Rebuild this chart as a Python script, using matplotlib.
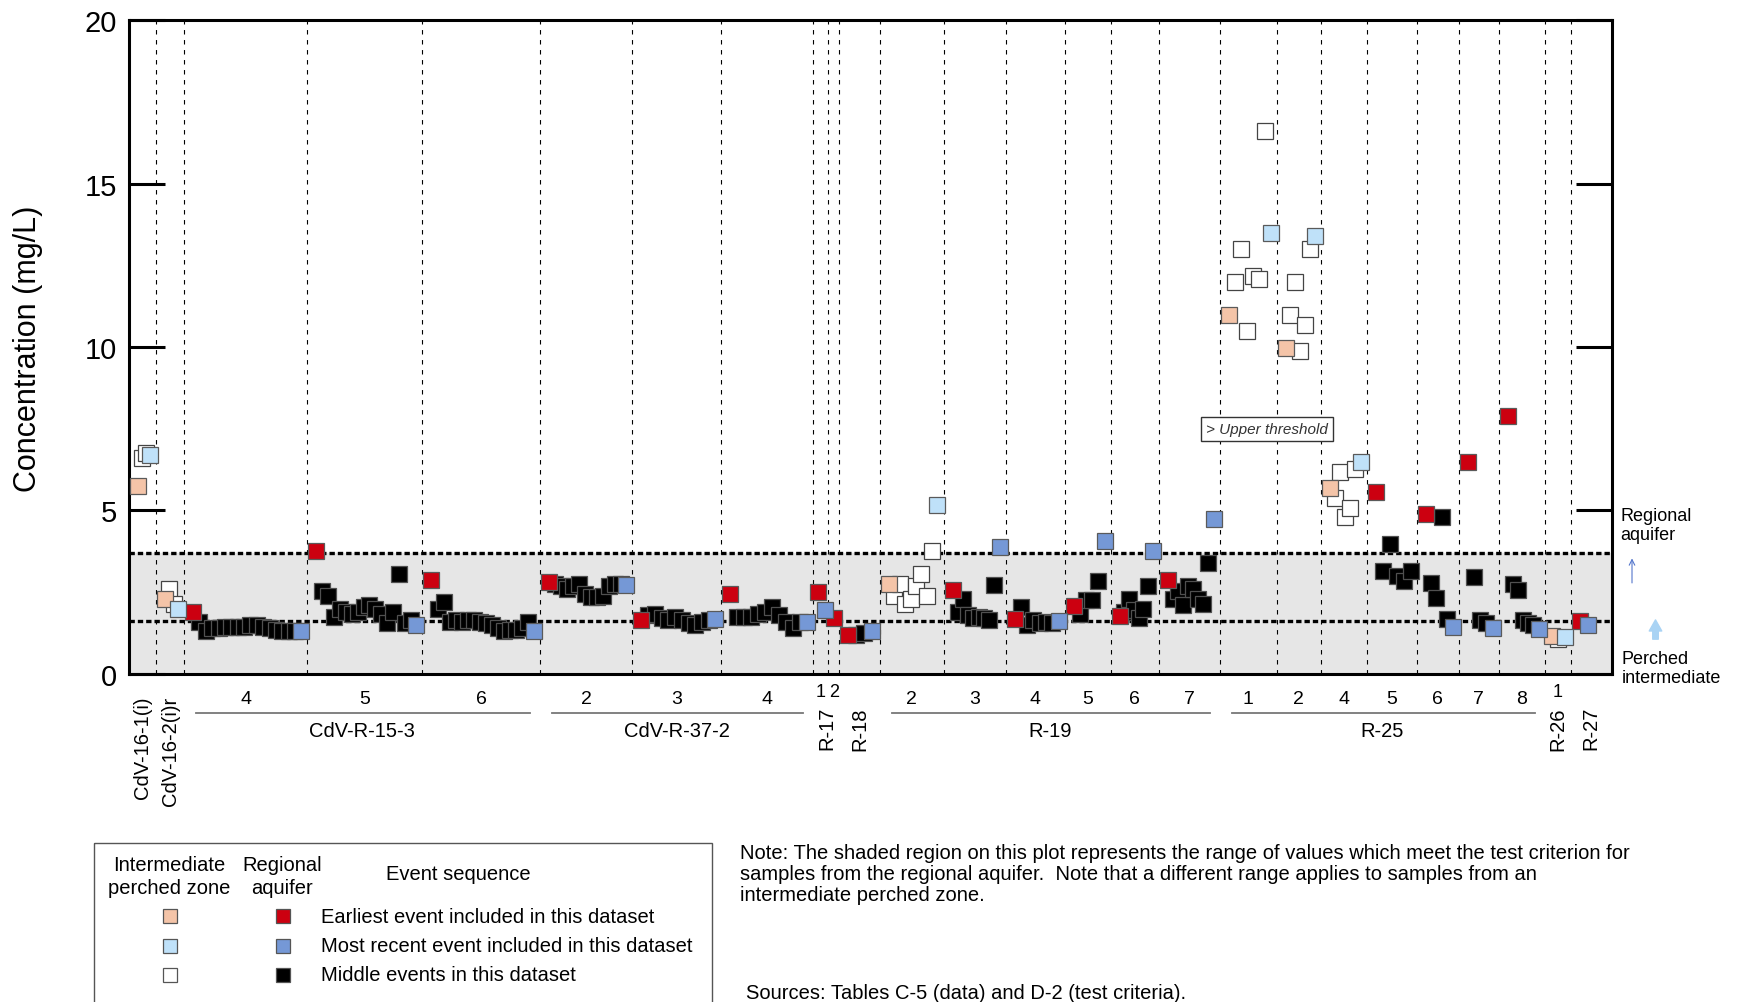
import matplotlib
matplotlib.use("Agg")
import matplotlib.pyplot as plt
import numpy as np
from matplotlib.patches import Rectangle

plt.rcParams['font.family'] = ['Liberation Sans', 'DejaVu Sans']

# concentrations (mg/L) in sampling order inside each event
cdv16_1 = [5.75, 6.6, 6.75, 6.7]
cdv16_2 = [2.3, 2.6, 2.15, 2.0]
r15_e4 = [1.9, 1.6, 1.3, 1.4, 1.4, 1.45, 1.45, 1.45, 1.45, 1.5, 1.5, 1.45, 1.4, 1.35, 1.3, 1.3, 1.3, 1.3]
r15_e5 = [3.75, 2.55, 2.38, 1.75, 2.0, 1.9, 1.85, 1.9, 2.05, 2.1, 2.0, 1.85, 1.55, 1.9, 3.05, 1.55, 1.65, 1.5]
r15_e6 = [2.87, 2.0, 2.2, 1.6, 1.65, 1.6, 1.65, 1.65, 1.6, 1.55, 1.5, 1.4, 1.3, 1.35, 1.35, 1.4, 1.6, 1.3]
r37_e2 = [2.82, 2.75, 2.7, 2.6, 2.7, 2.75, 2.45, 2.35, 2.35, 2.4, 2.7, 2.75, 2.75, 2.72]
r37_e3 = [1.66, 1.8, 1.85, 1.7, 1.65, 1.75, 1.65, 1.55, 1.5, 1.6, 1.65, 1.68]
r37_e4 = [2.45, 1.75, 1.75, 1.75, 1.85, 1.9, 2.05, 1.8, 1.6, 1.4, 1.6, 1.6]
r17_e1 = [2.52, 1.97]
r17_e2 = [1.71]
r18 = [1.2, 1.2, 1.25, 1.3]
r19_e2 = [2.75, 2.4, 2.75, 2.15, 2.3, 2.7, 3.05, 2.4, 3.75, 5.17]
r19_e3 = [2.58, 1.9, 2.3, 1.8, 1.7, 1.75, 1.7, 1.65, 2.72, 3.87]
r19_e4 = [1.68, 2.05, 1.5, 1.65, 1.55, 1.6, 1.55, 1.63]
r19_e5 = [2.09, 1.85, 2.25, 2.25, 2.85, 4.08]
r19_e6 = [1.78, 1.9, 2.3, 1.95, 1.7, 2.0, 2.7, 3.77]
r19_e7 = [2.88, 2.3, 2.55, 2.1, 2.7, 2.6, 2.3, 2.15, 3.38, 4.74]
r25_e1 = [10.98, 12.0, 13.0, 10.48, 12.18, 12.08, 16.6, 13.49]
r25_e2 = [9.97, 10.99, 11.99, 9.89, 10.67, 12.99, 13.38]
r25_e4 = [5.68, 5.38, 6.19, 4.79, 5.07, 6.27, 6.47]
r25_e5 = [5.58, 3.16, 3.98, 3.01, 2.85, 3.16]
r25_e6 = [4.89, 2.77, 2.32, 4.79, 1.68, 1.43]
r25_e7 = [6.47, 2.98, 1.65, 1.55, 1.40]
r25_e8 = [7.88, 2.75, 2.58, 1.66, 1.55, 1.5, 1.38]
r26_e1 = [1.15, 1.08, 1.12]
r27 = [1.63, 1.50]

# regional aquifer test range
upper_limit = 3.7
lower_limit = 1.63

# well, event label, values, zone (p = intermediate perched, r = regional)
groups = [
    ("CdV-16-1(i)", "", cdv16_1, "p"),
    ("CdV-16-2(i)r", "", cdv16_2, "p"),
    ("CdV-R-15-3", "4", r15_e4, "r"),
    ("CdV-R-15-3", "5", r15_e5, "r"),
    ("CdV-R-15-3", "6", r15_e6, "r"),
    ("CdV-R-37-2", "2", r37_e2, "r"),
    ("CdV-R-37-2", "3", r37_e3, "r"),
    ("CdV-R-37-2", "4", r37_e4, "r"),
    ("R-17", "1", r17_e1, "r"),
    ("R-17", "2", r17_e2, "r"),
    ("R-18", "", r18, "r"),
    ("R-19", "2", r19_e2, "p"),
    ("R-19", "3", r19_e3, "r"),
    ("R-19", "4", r19_e4, "r"),
    ("R-19", "5", r19_e5, "r"),
    ("R-19", "6", r19_e6, "r"),
    ("R-19", "7", r19_e7, "r"),
    ("R-25", "1", r25_e1, "p"),
    ("R-25", "2", r25_e2, "p"),
    ("R-25", "4", r25_e4, "p"),
    ("R-25", "5", r25_e5, "r"),
    ("R-25", "6", r25_e6, "r"),
    ("R-25", "7", r25_e7, "r"),
    ("R-25", "8", r25_e8, "r"),
    ("R-26", "1", r26_e1, "p"),
    ("R-27", "", r27, "r"),
]
no_recent = [("R-25", "5")]

# layout: group boundaries along the x axis
edges = [0, 27, 54.5, 178, 293, 411, 503, 592, 684, 699, 710, 750.5, 814, 876,
         935, 981, 1029.5, 1090, 1147, 1191, 1237, 1287, 1329, 1369, 1415, 1441, 1482.5]
rot_top = ["CdV-16-1(i)", "CdV-16-2(i)r"]
rot_low = ["R-17", "R-18", "R-26", "R-27"]

face = {("p", "first"): "#f4c4a8", ("p", "last"): "#bfe1f9", ("p", "mid"): "white",
        ("r", "first"): "#cc0010", ("r", "last"): "#7598d6", ("r", "mid"): "black"}
edge = {("p", "mid"): "#444444", ("r", "mid"): "#505050"}
MS = 12

fig = plt.figure(figsize=(17.37, 10.03), dpi=100)
ax = fig.add_axes([0.07455, 0.32702, 0.85349, 0.65204])
ax.set_xlim(edges[0], edges[-1])
ax.set_ylim(0, 20)

ax.axhspan(0, upper_limit, color="#e6e6e6", zorder=0)
for y in (upper_limit, lower_limit):
    ax.axhline(y, color="black", lw=2.4, ls=(0, (1.6, 0.9)), zorder=1)
for x in edges[1:-1]:
    ax.axvline(x, color="black", lw=0.8, ls=(0, (4, 5)), zorder=1)

for i, (well, ev, vals, zone) in enumerate(groups):
    a, b = edges[i], edges[i + 1]
    n = len(vals)
    w = b - a
    if n == 1:
        xs = np.array([(a + b) / 2])
    else:
        x0 = a + min(9, 0.3 * w)
        step = min((b - min(6, 0.25 * w) - x0) / (n - 1), 8)
        xs = x0 + step * np.arange(n)
    vals = np.array(vals)
    has_last = (well, ev) not in no_recent and n > 1
    mid_end = n - 1 if has_last else n
    if mid_end > 1:
        ax.plot(xs[1:mid_end], vals[1:mid_end], "s", ms=MS, mfc=face[(zone, "mid")],
                mec=edge[(zone, "mid")], mew=0.9, ls="none", zorder=3)
    ax.plot(xs[:1], vals[:1], "s", ms=MS, mfc=face[(zone, "first")], mec="#5a5a5a",
            mew=0.9, ls="none", zorder=4)
    if has_last:
        ax.plot(xs[-1:], vals[-1:], "s", ms=MS, mfc=face[(zone, "last")], mec="#5a5a5a",
                mew=0.9, ls="none", zorder=5)

# x labels: event numbers, well names
wells = []
for g in groups:
    if g[0] not in wells:
        wells.append(g[0])
for well in wells:
    idx = [i for i, g in enumerate(groups) if g[0] == well]
    a, b = edges[idx[0]], edges[idx[-1] + 1]
    if well in rot_top or well in rot_low:
        top = -0.67 if well in rot_top else -0.98
        ax.text((a + b) / 2, top, well, rotation=90, ha="center", va="top",
                fontsize=14.5, clip_on=False)
        for i in idx:
            if groups[i][1]:
                ax.text((edges[i] + edges[i + 1]) / 2, -0.52, groups[i][1], ha="center",
                        va="center", fontsize=13, clip_on=False)
    else:
        for i in idx:
            ax.text((edges[i] + edges[i + 1]) / 2, -0.76, groups[i][1], ha="center",
                    va="center", fontsize=14, clip_on=False)
        ax.plot([a + 12, b - 10], [-1.19, -1.19], color="#777777", lw=1.3, clip_on=False)
        ax.text((a + b) / 2, -1.74, well, ha="center", va="center", fontsize=14.5, clip_on=False)

ax.text(1137.5, 7.49, "> Upper threshold", style="italic", fontsize=11, color="#333333",
        ha="center", va="center", zorder=6,
        bbox=dict(boxstyle="square,pad=0.35", fc="white", ec="#333333", lw=1))

ax.text(1491, 4.57, "Regional\naquifer", ha="left", va="center", fontsize=13,
        linespacing=1.15, clip_on=False)
ax.text(1492, 0.17, "Perched\nintermediate", ha="left", va="center", fontsize=13,
        linespacing=1.15, clip_on=False)
ax.annotate("", xy=(1502.5, 3.62), xytext=(1502.5, 2.7), annotation_clip=False,
            arrowprops=dict(arrowstyle="->", color="#5577cc", lw=0.8))
ax.annotate("", xy=(1526, 1.74), xytext=(1526, 0.98), annotation_clip=False,
            arrowprops=dict(arrowstyle="simple,head_length=0.8,head_width=0.9,tail_width=0.4",
                            color="#a9d3f4", mutation_scale=10))

ax.set_xticks([])
ax.set_yticks([0, 5, 10, 15, 20])
ax.tick_params(axis="y", direction="in", length=26, width=2.2, labelsize=21, pad=9, right=True)
for s in ax.spines.values():
    s.set_linewidth(2.2)
fig.text(0.016, 0.652, "Concentration (mg/L)", rotation=90, ha="center", va="center", fontsize=22)

# legend and notes, placed in figure pixels
ov = fig.add_axes([0, 0, 1, 1], zorder=-1)
ov.set_xlim(0, 1737)
ov.set_ylim(1003, 0)
ov.axis("off")
ov.add_patch(Rectangle((94, 844), 618, 170, fc="none", ec="#555555", lw=1, clip_on=False))
ov.text(169.5, 877, "Intermediate\nperched zone", ha="center", va="center", fontsize=14.5, linespacing=1.3)
ov.text(282.5, 877, "Regional\naquifer", ha="center", va="center", fontsize=14.5, linespacing=1.3)
ov.text(458.7, 875, "Event sequence", ha="center", va="center", fontsize=14.5)
leg_labels = ["Earliest event included in this dataset",
              "Most recent event included in this dataset",
              "Middle events in this dataset"]
for j, (role, lab) in enumerate(zip(["first", "last", "mid"], leg_labels)):
    y = 917.4 + j * 29.3
    ov.plot([169.5], [y], "s", ms=10.5, mfc=face[("p", role)], mec="#555555", mew=0.9)
    ov.plot([282.5], [y], "s", ms=10.5, mfc=face[("r", role)], mec="#555555", mew=0.9)
    ov.text(321, y, lab, ha="left", va="center", fontsize=14.5)

ov.text(740, 844, "Note: The shaded region on this plot represents the range of values which meet the test criterion for\n"
        "samples from the regional aquifer.  Note that a different range applies to samples from an\n"
        "intermediate perched zone.", ha="left", va="top", fontsize=14.5, linespacing=1.12)
ov.text(746, 994, "Sources: Tables C-5 (data) and D-2 (test criteria).", ha="left", va="center", fontsize=14.5)

fig.savefig("out.png", dpi=100, facecolor="white")
